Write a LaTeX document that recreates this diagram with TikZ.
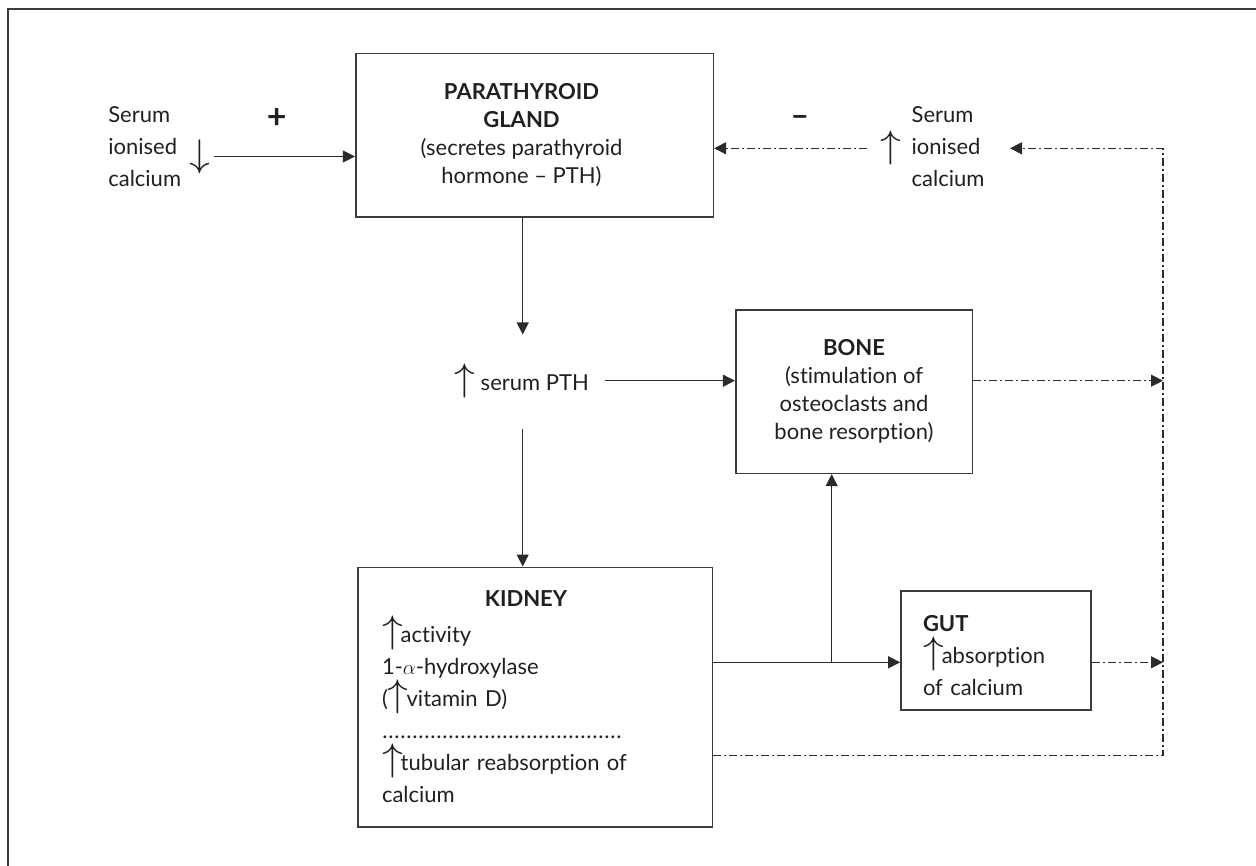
\documentclass[tikz,border=0pt]{standalone}
\usepackage{fontspec}
\setmainfont{Lato}[Ligatures=NoCommon]
\usepackage{graphicx}
\usetikzlibrary{arrows.meta}
\definecolor{ink}{HTML}{231F20}
\definecolor{ln}{HTML}{2B2B2B}
\definecolor{bx}{HTML}{3C3C3C}
\newcommand\UPA{\scalebox{2.0}[1.85]{$\uparrow$}}
\newcommand\DNA{\scalebox{2.0}[1.85]{$\downarrow$}}
\newcommand\UPS{\smash{\UPA}\kern-2pt}
\newcommand\dotrow{\leavevmode\makebox[245pt][l]{\leaders\hbox to 6pt{\hss.\hss}\hfill}}
\tikzset{
  box/.style={draw=bx, line width=1.6pt, inner sep=0pt},
  arr/.style={draw=ln, line width=1.3pt, -{Triangle[length=12pt,width=12pt]}},
  dd/.style={dash pattern=on 8pt off 3pt on 2pt off 3pt},
  plain/.style={inner sep=0pt, outer sep=0pt},
}
\begin{document}
\begin{tikzpicture}[x=1pt,y=-1pt, font=\fontsize{22}{32}\selectfont, text=ink]
\useasboundingbox (0,0) rectangle (1256,866);
% outer frame
\draw[bx, line width=2pt] (1262,9) -- (8,9) -- (8,872);

% coordinates for bends
\coordinate (col) at (522.7,0);
\coordinate (rail) at (1163,0);
\coordinate (kg) at (0,662.3);
\coordinate (kb) at (0,755.7);
\coordinate (jn) at (831.7,662.3);
\coordinate (ht) at (1010,148.3);

% boxes
\node[box, minimum width=357.6pt, minimum height=163.6pt, align=center,
      font=\fontsize{22}{28}\selectfont] (pg) at (534.5,135.5)
  {\hspace*{-26pt}\textbf{PARATHYROID}\\\hspace*{-26pt}\textbf{GLAND}\\\hspace*{-26pt}(secretes parathyroid\\\hspace*{-26pt}hormone – PTH)};
\node[box, minimum width=236.6pt, minimum height=163.3pt, align=center,
      font=\fontsize{22}{28}\selectfont] (bone) at (854,391.7)
  {\textbf{BONE}\\(stimulation of\\osteoclasts and\\bone resorption)};
\node[box, minimum width=354.6pt, minimum height=259.4pt, inner xsep=24.3pt,
      text width=306pt, align=left] (kid) at (535,697)
  {\makebox[288pt]{\bfseries KIDNEY}\\[4pt]
   \UPS activity\\
   1-$\alpha$-hydroxylase\\
   (\UPS vitamin D)\\
   \dotrow\\
   \UPS tubular reabsorption of\\
   calcium};
\node[box, minimum width=190pt, minimum height=119pt, inner xsep=22pt,
      text width=146pt, align=left] (gut) at (996,650.5)
  {\rule{0pt}{26pt}\textbf{GUT}\\\UPS absorption\\of calcium};

% free texts
\node[plain, align=left, anchor=west] (lowca) at (108.3,147) {Serum\\ionised\\calcium};
\node[plain] (dnarr) at (200,156.5) {\DNA};
\node[plain, font=\fontsize{34}{34}\selectfont\bfseries] (plus) at (276.7,118.3) {+};
\node[plain, font=\fontsize{32}{32}\selectfont\bfseries] (minus) at (800,121) {–};
\node[plain] (uparr) at (890.7,148.3) {\UPA};
\node[plain, align=left, anchor=west] (hica) at (911.7,147) {Serum\\ionised\\calcium};
\node[plain, anchor=west, text height=26pt, text depth=7pt] (pth) at (454,380.7) {\UPA\hspace{6pt}serum PTH};

% solid connectors
\draw[arr] (dnarr.east) ++(4,0) -- (dnarr.east -| pg.west);
\draw[arr, shorten >=29.7pt] (pg.south -| col) -- (pth.north -| col);
\draw[arr, shorten <=32pt] (pth.south -| col) -- (kid.north -| col);
\draw[arr, shorten <=15.7pt] (pth.east) -- (pth.east -| bone.west);
\draw[draw=ln, line width=1.3pt] (kid.east |- kg) -- (jn);
\draw[arr] (jn) -- (gut.west |- kg);
\draw[arr] (jn) -- (jn |- bone.south);

% dash-dot connectors
\draw[arr, dd, shorten <=13pt] (uparr.west) -- (uparr.west -| pg.east);
\draw[arr, dd] (pth.east -| bone.east) -- (pth.east -| rail);
\draw[arr, dd] (gut.east |- kg) -- (rail |- kg);
\draw[arr, dd] (kid.east |- kb) -| (rail |- ht) -- (ht);
\end{tikzpicture}
\end{document}
